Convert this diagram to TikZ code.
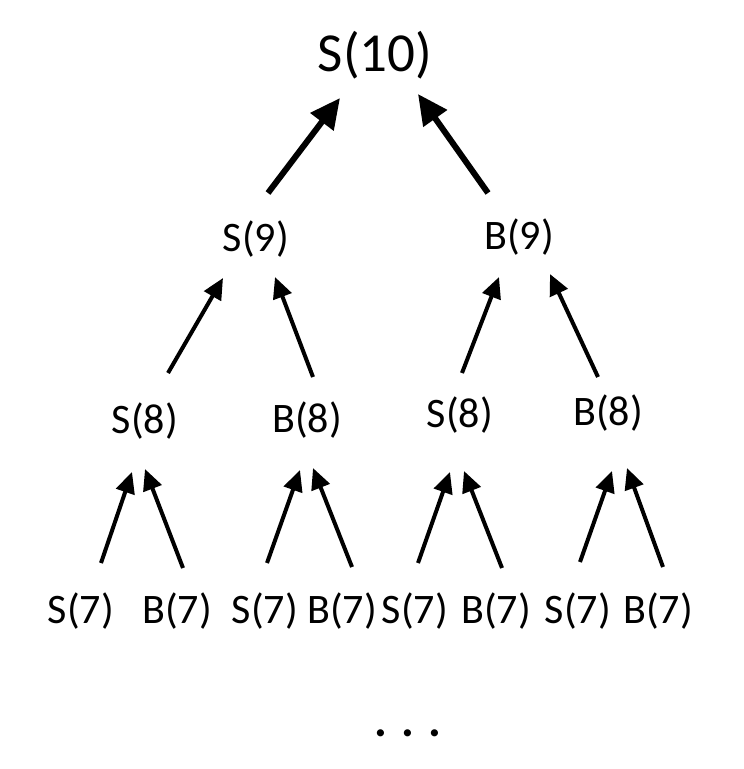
\documentclass[tikz,border=0pt]{standalone}
\usepackage{fontspec}
\setmainfont{Carlito}
\usetikzlibrary{arrows.meta}
\begin{document}
\begin{tikzpicture}[x=1pt,y=-1pt,
  lbl/.style={inner sep=0pt,anchor=base,font=\fontsize{42}{50}\selectfont},
  toplbl/.style={inner sep=0pt,anchor=base,font=\fontsize{55}{64}\selectfont},
  thick arrow/.style={line width=6pt,-{Triangle[length=30pt,width=28pt]}},
  thin arrow/.style={line width=4pt,-{Triangle[length=21pt,width=19pt]}}]
\useasboundingbox (0,0) rectangle (744,769);
% nodes
\node[toplbl] (s10) at (375,71) {S(10)};
\node[lbl] (s9) at (256,251) {S(9)};
\node[lbl] (b9) at (519,249) {B(9)};
\node[lbl] (s8a) at (145,433) {S(8)};
\node[lbl] (b8a) at (307,432) {B(8)};
\node[lbl] (s8b) at (460,427) {S(8)};
\node[lbl] (b8b) at (608,425) {B(8)};
\node[lbl] (s7a) at (81,623) {S(7)};
\node[lbl] (b7a) at (177,623) {B(7)};
\node[lbl] (s7b) at (265,623) {S(7)};
\node[lbl] (b7b) at (342,623) {B(7)};
\node[lbl] (s7c) at (415,623) {S(7)};
\node[lbl] (b7c) at (496,623) {B(7)};
\node[lbl] (s7d) at (578,623) {S(7)};
\node[lbl] (b7d) at (658,623) {B(7)};
\node[lbl,font=\fontsize{48}{56}\selectfont\bfseries] (dots) at (408,736) {. . .};
% connector end points
\coordinate (t1) at (268,193); \coordinate (h1) at (340,98);
\coordinate (t2) at (488,193); \coordinate (h2) at (418,94);
\coordinate (t3) at (168,373); \coordinate (h3) at (223,278);
\coordinate (t4) at (313,377); \coordinate (h4) at (275,277);
\coordinate (t5) at (462,373); \coordinate (h5) at (499,277);
\coordinate (t6) at (598,377); \coordinate (h6) at (550,274);
\coordinate (t7) at (101,563); \coordinate (h7) at (132,472);
\coordinate (t8) at (183,568); \coordinate (h8) at (145,469);
\coordinate (t9) at (267,563); \coordinate (h9) at (300,470);
\coordinate (t10) at (352,567); \coordinate (h10) at (313,468);
\coordinate (t11) at (418,563); \coordinate (h11) at (450,472);
\coordinate (t12) at (502,568); \coordinate (h12) at (464,471);
\coordinate (t13) at (580,562); \coordinate (h13) at (612,471);
\coordinate (t14) at (663,567); \coordinate (h14) at (627,468);
% connectors
\draw[thick arrow] (t1) -- (h1);
\draw[thick arrow] (t2) -- (h2);
\foreach \i in {3,...,14} {\draw[thin arrow] (t\i) -- (h\i);}
\end{tikzpicture}
\end{document}
